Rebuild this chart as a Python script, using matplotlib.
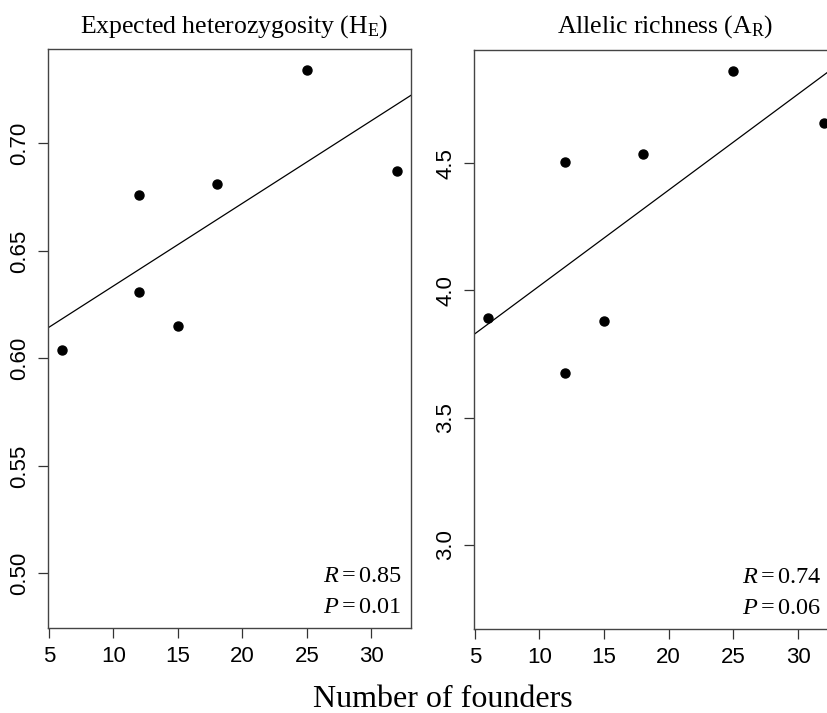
import numpy as np
import matplotlib.pyplot as plt

plt.rcParams['font.family'] = 'Liberation Sans'
plt.rcParams['mathtext.fontset'] = 'custom'
plt.rcParams['mathtext.rm'] = 'Liberation Serif'
plt.rcParams['mathtext.it'] = 'Liberation Serif:italic'

# data
founders = np.array([6, 12, 12, 15, 18, 25, 32])
het = np.array([0.604, 0.676, 0.631, 0.615, 0.681, 0.734, 0.687])
rich = np.array([3.893, 4.506, 3.676, 3.879, 4.535, 4.861, 4.658])

titles = [r'$\mathrm{Expected\ heterozygosity\ (H_E)}$',
          r'$\mathrm{Allelic\ richness\ (A_R)}$']
r_vals = ['0.85', '0.74']
p_vals = ['0.01', '0.06']
yticks = [[0.50, 0.55, 0.60, 0.65, 0.70], [3.0, 3.5, 4.0, 4.5]]
yfmt = ['{:.2f}', '{:.1f}']
ylims = [(0.4746, 0.7439), (2.669, 4.945)]
xticks = [5, 10, 15, 20, 25, 30]

W, H = 828, 713
fig = plt.figure(figsize=(W / 100, H / 100), dpi=100)

# axes boxes in pixels: left, top, right, bottom
boxes = [(48.3, 49, 410.7, 628), (474.3, 50, 837.3, 629)]
title_x = [234, 665]
txt_x = [0.976, 0.957]

for i, yv in enumerate([het, rich]):
    l, t, r, b = boxes[i]
    ax = fig.add_axes([l / W, 1 - b / H, (r - l) / W, (b - t) / H])
    ax.plot(founders, yv, 'o', color='k', ms=6.5)
    k, c = np.polyfit(founders, yv, 1)
    xx = np.array([0, 40])
    ax.plot(xx, k * xx + c, color='k', lw=0.9)
    ax.set_xlim(4.96, 33.04)
    ax.set_ylim(*ylims[i])
    ax.set_xticks(xticks)
    ax.set_yticks(yticks[i])
    ax.set_yticklabels([yfmt[i].format(v) for v in yticks[i]],
                       rotation=90, va='center')
    ax.tick_params(labelsize=16, length=7, width=0.9, color='#333', pad=6)
    for s in ax.spines.values():
        s.set_color('#444')
        s.set_linewidth(1)
    fig.text(title_x[i] / W, 1 - 33 / H, titles[i], fontsize=18.5,
             ha='center', va='baseline')
    ax.text(txt_x[i], 0.090, r'$R = %s$' % r_vals[i], transform=ax.transAxes,
            ha='right', va='center', fontsize=17.5)
    ax.text(txt_x[i], 0.036, r'$P = %s$' % p_vals[i], transform=ax.transAxes,
            ha='right', va='center', fontsize=17.5)

fig.text(443 / W, 1 - 707 / H, 'Number of founders', family='Liberation Serif',
         fontsize=23, ha='center', va='baseline')

fig.savefig('out.png', dpi=100)
